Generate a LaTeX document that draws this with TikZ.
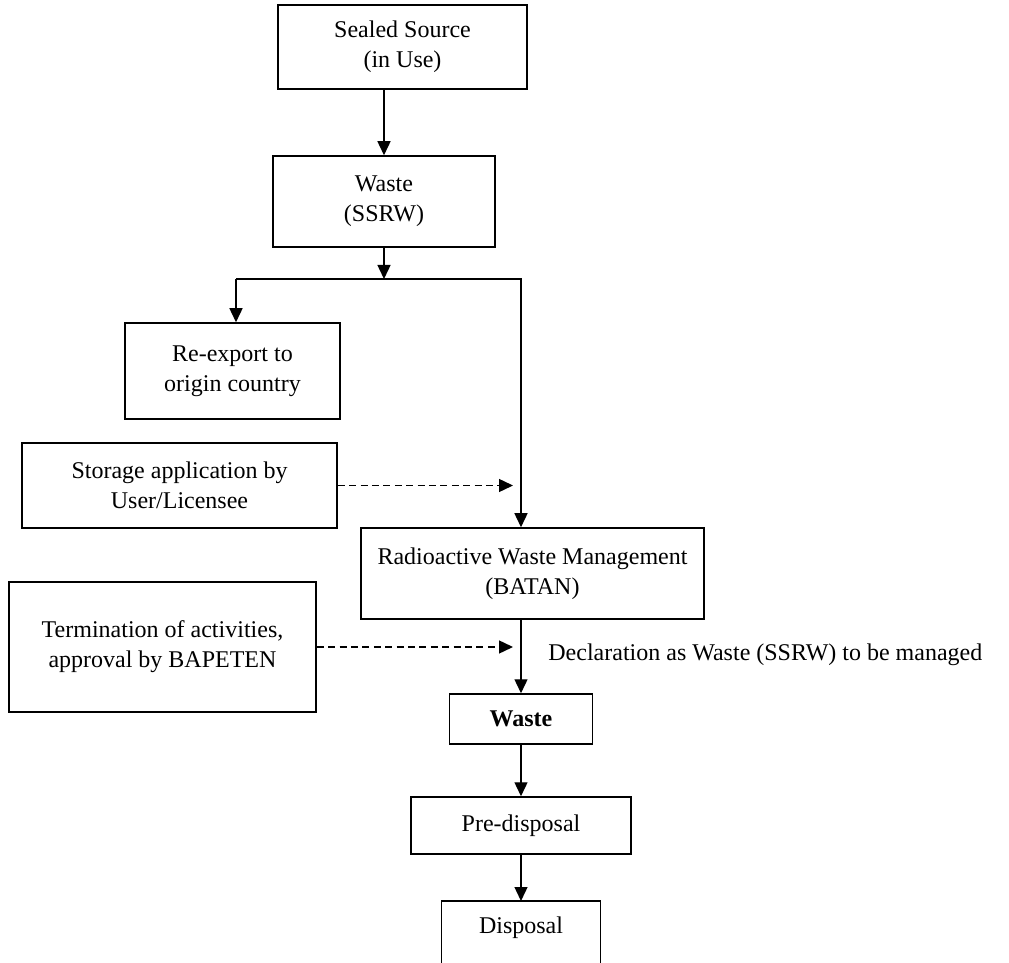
\documentclass[tikz,border=0pt]{standalone}
\usepackage{fontspec}
\setmainfont{Liberation Serif}
\usetikzlibrary{arrows.meta}
\begin{document}
\begin{tikzpicture}[x=0.5pt, y=-0.5pt,
    font=\fontsize{12}{15}\selectfont,
    boxed/.style ={rectangle, draw, line width=0.75pt, align=center, inner sep=2pt},
    flow/.style ={line width=0.7pt, -{Triangle[length=7pt,width=6.5pt]}},
    dashflow/.style ={flow, dash pattern=on 3.5pt off 2.2pt, shorten >=4pt}]
   \useasboundingbox (0,0) rectangle (1009,963);
   \node[boxed, minimum width=124.5pt, minimum height=42pt] (src) at (402.5,47) {Sealed Source\\(in Use)};
   \node[boxed, minimum width=111pt, minimum height=45.5pt] (ssrw) at (384,201.5) {Waste\\(SSRW)};
   \node[boxed, minimum width=107.5pt, minimum height=48pt] (reexp) at (232.5,371) {Re-export to\\origin country};
   \node[boxed, minimum width=157.5pt, minimum height=42.5pt] (store) at (179.5,485.5) {Storage application by\\User/Licensee};
   \node[boxed, minimum width=171.5pt, minimum height=45.5pt] (rwm) at (532.5,573.5) {Radioactive Waste Management\\(BATAN)};
   \node[boxed, minimum width=153.5pt, minimum height=65pt] (term) at (162.5,647) {Termination of activities,\\approval by BAPETEN};
   \node[boxed, minimum width=71.5pt, minimum height=25pt] (waste) at (521,719) {\textbf{Waste}};
   \node[boxed, minimum width=110pt, minimum height=28.5pt] (pre) at (521,825.5) {Pre-disposal};
   \node[anchor=north, minimum width=79pt, inner ysep=7.8pt] (disp) at (521,901) {Disposal};
   \node[anchor=west, inner sep=0pt] (decl) at (548,655) {Declaration as Waste (SSRW) to be managed};
   % open box at the bottom edge
   \draw[line width=0.75pt] ([yshift=-40pt]disp.north west) -- (disp.north west) -- (disp.north east) -- ([yshift=-40pt]disp.north east);
   \coordinate (jl) at (236,279);
   \coordinate (jr) at (521,279);
   \draw[flow] (src.south -| ssrw) -- (ssrw);
   \draw[flow] (ssrw) -- (ssrw |- jl);
   \draw[flow] (jl) -- (jl |- reexp.north);
   \draw[flow] (jl) -- (jr) -- (jr |- rwm.north);
   \draw[dashflow] (store) -- (store -| jr);
   \draw[dashflow] (term) -- (term -| jr);
   \draw[flow] (rwm.south -| jr) -- (waste);
   \draw[flow] (waste) -- (pre);
   \draw[flow] (pre) -- (disp);
\end{tikzpicture}
\end{document}
